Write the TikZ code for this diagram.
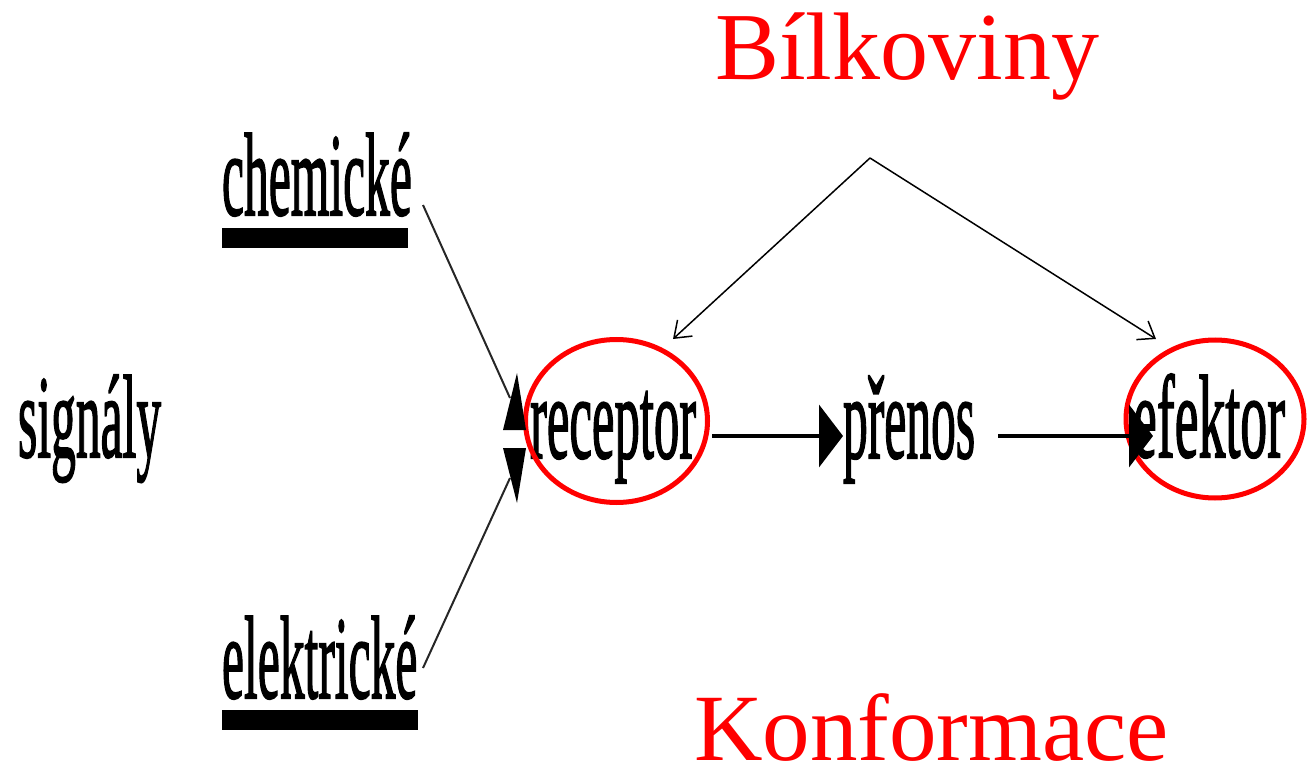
\documentclass[tikz,border=0pt]{standalone}
\usepackage{fontspec}
\setmainfont{Liberation Serif}
\newfontfamily\heavyserif[FakeBold=1.8]{Liberation Serif}
\usetikzlibrary{arrows.meta,shapes.geometric}
\tikzset{
  word/.style={anchor=base west, inner sep=0pt, outer sep=0pt, font=\heavyserif\fontsize{118}{118}\selectfont},
  redword/.style={anchor=base west, inner sep=0pt, outer sep=0pt, text=red, font=\fontsize{96}{96}\selectfont},
  ring/.style={ellipse, draw=red, line width=5pt, inner sep=0pt},
  bar/.style={fill=black, draw=none},
  thinarrow/.style={line width=1.5pt, -{Straight Barb[length=15pt,width=22pt,line width=1.5pt]}},
  fatarrow/.style={line width=4.5pt, -{Triangle[length=24pt,width=62pt]}},
  feed/.style={line width=2pt, black!85},
  head/.style={fill=black, draw=none}
}
\newcommand{\cond}[2][0.42]{\scalebox{#1}[1]{#2}}
\begin{document}
\begin{tikzpicture}[x=1pt,y=-1pt]
\useasboundingbox (0,0) rectangle (1307,778);
% texts
\node[word] (sig) at (18,457) {\cond{signály}};
\node[word] (chem) at (222,215) {\cond{chemické}};
\node[word] (elek) at (222,698) {\cond{elektrické}};
\node[word] (rec) at (530,458) {\cond[0.43]{receptor}};
\node[word] (pren) at (843,458) {\cond{přenos}};
\node[word] (efe) at (1133,457) {\cond[0.455]{efektor}};
\node[redword] (bil) at (715,80) {Bílkoviny};
\node[redword, font=\fontsize{95}{95}\selectfont] (konf) at (694,760) {Konformace};
% underline bars
\fill[bar] (222,228) rectangle (408,248);
\fill[bar] (222,710) rectangle (418,730);
% red rings
\node[ring, minimum width=182pt, minimum height=163pt] (recR) at (616.5,421) {};
\node[ring, minimum width=178pt, minimum height=158pt] (efeR) at (1215,419) {};
% connector points
\coordinate (chemE) at (423,205);
\coordinate (recIn1) at (510,398);
\coordinate (elekE) at (423,668);
\coordinate (recIn2) at (510,478);
\coordinate (recOut) at (712,436);
\coordinate (prenIn) at (843,436);
\coordinate (prenOut) at (998,436);
\coordinate (efeIn) at (1153,436);
\coordinate (apex) at (870,158);
\coordinate (recTop) at (673,339);
\coordinate (efeTop) at (1156,339);
% feeding lines with squashed heads
\draw[feed] (chemE) -- (recIn1);
\draw[feed] (elekE) -- (recIn2);
\fill[head] (517,373) -- (526,430) -- (503,430) -- cycle;
\fill[head] (503,448) -- (526,448) -- (517,503) -- cycle;
% main chain
\draw[fatarrow] (recOut) -- (prenIn);
\draw[fatarrow] (prenOut) -- (efeIn);
% protein arrows
\draw[thinarrow] (apex) -- (recTop);
\draw[thinarrow] (apex) -- (efeTop);
\end{tikzpicture}
\end{document}
